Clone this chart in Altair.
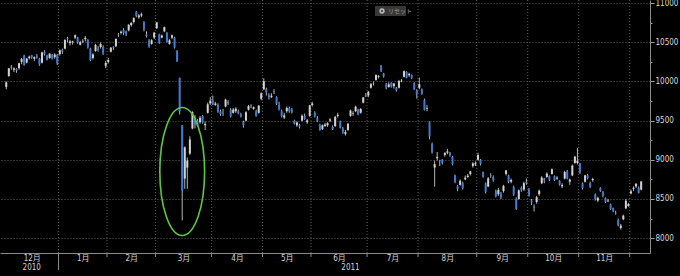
import altair as alt
import pandas as pd

# ---------------- data: daily candles [open, high, low, close] ----------------
dec_2010 = [
    [9930, 10000, 9900, 9988], [10070, 10170, 10060, 10168], [10190, 10210, 10150, 10178],
    [10150, 10180, 10120, 10167], [10160, 10170, 10110, 10141], [10170, 10240, 10150, 10232],
    [10250, 10300, 10220, 10285], [10330, 10340, 10200, 10211], [10240, 10300, 10230, 10293],
    [10300, 10330, 10280, 10316], [10330, 10340, 10290, 10309], [10290, 10320, 10260, 10311],
    [10320, 10350, 10290, 10303], [10290, 10300, 10200, 10216], [10240, 10380, 10230, 10370],
    [10380, 10400, 10330, 10346], [10330, 10340, 10270, 10279], [10300, 10360, 10290, 10355],
    [10340, 10350, 10280, 10292], [10310, 10360, 10290, 10344], [10340, 10350, 10210, 10229],
]
jan_2011 = [
    [10350, 10410, 10330, 10398], [10400, 10420, 10350, 10380], [10420, 10540, 10410, 10529],
    [10550, 10570, 10500, 10541], [10490, 10530, 10460, 10510], [10500, 10520, 10470, 10512],
    [10560, 10600, 10540, 10589], [10560, 10570, 10480, 10499], [10470, 10520, 10460, 10502],
    [10510, 10540, 10490, 10518], [10540, 10580, 10510, 10557], [10530, 10540, 10420, 10437],
    [10420, 10430, 10260, 10274], [10300, 10360, 10280, 10345], [10390, 10480, 10380, 10464],
    [10420, 10450, 10380, 10401], [10440, 10500, 10420, 10478], [10440, 10460, 10340, 10360],
    [10200, 10260, 10170, 10237],
]
feb_2011 = [
    [10250, 10300, 10230, 10274], [10380, 10440, 10370, 10431], [10440, 10450, 10400, 10432],
    [10450, 10550, 10440, 10543], [10600, 10620, 10570, 10593], [10620, 10650, 10600, 10636],
    [10660, 10680, 10590, 10617], [10640, 10650, 10580, 10605], [10650, 10730, 10640, 10725],
    [10720, 10760, 10700, 10746], [10760, 10820, 10740, 10808], [10890, 10900, 10820, 10836],
    [10820, 10860, 10800, 10842], [10840, 10880, 10820, 10857], [10760, 10770, 10640, 10665],
    [10600, 10640, 10560, 10579], [10520, 10540, 10430, 10452], [10480, 10540, 10470, 10526],
    [10560, 10630, 10540, 10624],
]
mar_2011 = [
    [10680, 10760, 10670, 10754], [10600, 10610, 10480, 10492], [10560, 10600, 10550, 10586],
    [10640, 10700, 10630, 10693], [10620, 10630, 10500, 10505], [10480, 10540, 10470, 10525],
    [10560, 10600, 10540, 10589], [10560, 10570, 10420, 10434], [10390, 10400, 10250, 10254],
    [10044, 10050, 9578, 9620], [9441, 9441, 8227, 8605], [8760, 9170, 8630, 9160],
    [8900, 9030, 8630, 8990], [9080, 9300, 9060, 9260], [9400, 9620, 9390, 9608],
    [9550, 9570, 9400, 9449], [9500, 9520, 9430, 9435], [9480, 9560, 9460, 9536],
    [9560, 9570, 9460, 9478], [9440, 9490, 9380, 9459], [9600, 9730, 9590, 9708],
    [9720, 9800, 9700, 9755],
]
apr_2011 = [
    [9760, 9820, 9700, 9708], [9700, 9740, 9690, 9718], [9700, 9720, 9600, 9615],
    [9620, 9640, 9560, 9584], [9600, 9650, 9560, 9590], [9680, 9780, 9670, 9768],
    [9740, 9760, 9700, 9719], [9640, 9660, 9540, 9555], [9600, 9660, 9590, 9641],
    [9620, 9670, 9600, 9653], [9620, 9640, 9580, 9591], [9580, 9600, 9540, 9556],
    [9480, 9500, 9410, 9441], [9500, 9620, 9490, 9607], [9640, 9700, 9630, 9685],
    [9690, 9710, 9660, 9682], [9650, 9680, 9640, 9671], [9620, 9640, 9550, 9558],
    [9600, 9700, 9590, 9691], [9780, 9860, 9760, 9849],
]
may_2011 = [
    [9900, 10040, 9890, 10004], [9900, 9920, 9820, 9859], [9830, 9850, 9770, 9794],
    [9800, 9850, 9790, 9818], [9880, 9900, 9840, 9864], [9800, 9810, 9700, 9716],
    [9700, 9740, 9630, 9648], [9620, 9640, 9540, 9558], [9540, 9600, 9520, 9567],
    [9620, 9680, 9600, 9662], [9660, 9680, 9600, 9620], [9640, 9660, 9590, 9607],
    [9500, 9510, 9450, 9460], [9440, 9490, 9420, 9477], [9440, 9460, 9400, 9422],
    [9500, 9580, 9490, 9562], [9560, 9590, 9510, 9521], [9480, 9520, 9460, 9504],
    [9560, 9700, 9550, 9693],
]
jun_2011 = [
    [9700, 9740, 9680, 9719], [9600, 9620, 9540, 9555], [9530, 9560, 9480, 9492],
    [9440, 9460, 9370, 9381], [9390, 9450, 9380, 9442], [9430, 9470, 9420, 9449],
    [9440, 9480, 9420, 9467], [9500, 9530, 9480, 9514], [9420, 9440, 9380, 9392],
    [9430, 9560, 9420, 9547], [9560, 9600, 9540, 9574], [9490, 9500, 9400, 9411],
    [9400, 9420, 9330, 9351], [9330, 9380, 9310, 9354], [9380, 9470, 9370, 9459],
    [9560, 9640, 9550, 9629], [9590, 9620, 9560, 9597], [9620, 9690, 9610, 9678],
    [9640, 9650, 9570, 9578], [9600, 9660, 9590, 9648], [9730, 9800, 9720, 9797],
    [9830, 9850, 9800, 9816],
]
jul_2011 = [
    [9820, 9880, 9800, 9868], [9920, 9980, 9910, 9965], [9970, 10000, 9950, 9972],
    [10020, 10090, 10010, 10082], [10060, 10080, 10040, 10071], [10200, 10210, 10120, 10137],
    [10100, 10110, 10050, 10069], [9960, 9980, 9900, 9925], [9930, 9990, 9920, 9963],
    [9980, 9990, 9920, 9936], [9940, 9980, 9910, 9974], [9920, 9930, 9870, 9889],
    [9920, 10020, 9910, 10005], [10000, 10030, 9990, 10010], [10060, 10140, 10050, 10132],
    [10120, 10130, 10040, 10050], [10080, 10110, 10060, 10098], [10080, 10090, 10030, 10047],
    [9980, 9990, 9890, 9901], [9880, 9900, 9780, 9833],
]
aug_2011 = [
    [9920, 10050, 9900, 9965], [9900, 9910, 9830, 9844], [9760, 9780, 9630, 9637],
    [9650, 9700, 9620, 9659], [9480, 9490, 9260, 9299], [9200, 9220, 9080, 9097],
    [8900, 8990, 8656, 8944], [9020, 9100, 8990, 9038], [8990, 9000, 8920, 8981],
    [9000, 9010, 8940, 8963], [9060, 9100, 9040, 9086], [9090, 9140, 9070, 9107],
    [9090, 9100, 9040, 9058], [9040, 9050, 8930, 8943], [8800, 8810, 8700, 8719],
    [8660, 8680, 8600, 8628], [8680, 8750, 8670, 8733], [8700, 8720, 8620, 8639],
    [8750, 8800, 8740, 8772], [8780, 8820, 8770, 8797], [8820, 8860, 8800, 8851],
    [8920, 8970, 8900, 8954], [8940, 8980, 8920, 8955],
]
sep_2011 = [
    [9000, 9090, 8990, 9060], [9000, 9010, 8930, 8950], [8840, 8850, 8770, 8785],
    [8700, 8710, 8570, 8590], [8660, 8780, 8650, 8763], [8800, 8830, 8770, 8793],
    [8780, 8800, 8720, 8737], [8600, 8620, 8520, 8535], [8560, 8640, 8540, 8616],
    [8570, 8590, 8500, 8518], [8600, 8680, 8580, 8668], [8820, 8870, 8800, 8864],
    [8800, 8810, 8700, 8721], [8720, 8760, 8700, 8741], [8650, 8670, 8540, 8560],
    [8500, 8520, 8360, 8374], [8500, 8620, 8490, 8609], [8640, 8660, 8590, 8616],
    [8620, 8720, 8600, 8701], [8720, 8760, 8680, 8700],
]
oct_2011 = [
    [8620, 8640, 8530, 8545], [8480, 8500, 8420, 8456], [8400, 8430, 8340, 8382],
    [8460, 8540, 8440, 8522], [8560, 8620, 8540, 8605], [8700, 8790, 8690, 8773],
    [8760, 8770, 8700, 8738], [8780, 8840, 8770, 8823], [8790, 8800, 8730, 8747],
    [8820, 8890, 8810, 8879], [8790, 8800, 8730, 8741], [8760, 8790, 8740, 8772],
    [8730, 8740, 8670, 8682], [8660, 8700, 8640, 8678], [8760, 8860, 8750, 8843],
    [8850, 8870, 8750, 8762], [8720, 8760, 8680, 8748], [8800, 8940, 8790, 8926],
    [8960, 9050, 8950, 9040], [8960, 9152, 8940, 8988],
]
nov_2011 = [
    [8950, 8960, 8820, 8835], [8700, 8710, 8620, 8640], [8720, 8810, 8710, 8801],
    [8800, 8820, 8750, 8767], [8700, 8720, 8640, 8655], [8740, 8770, 8720, 8755],
    [8560, 8570, 8480, 8500], [8480, 8530, 8460, 8514], [8640, 8650, 8590, 8603],
    [8590, 8600, 8520, 8541], [8510, 8520, 8450, 8463], [8470, 8500, 8460, 8479],
    [8430, 8440, 8360, 8374], [8380, 8390, 8330, 8349], [8320, 8350, 8300, 8314],
    [8230, 8250, 8150, 8165], [8130, 8180, 8110, 8160], [8240, 8300, 8230, 8287],
    [8380, 8500, 8370, 8477], [8410, 8450, 8400, 8434],
]
dec_2011 = [
    [8570, 8620, 8560, 8597], [8630, 8660, 8600, 8643], [8660, 8700, 8640, 8695],
    [8640, 8660, 8570, 8575], [8620, 8730, 8610, 8722],
]
months_ohlc = [dec_2010, jan_2011, feb_2011, mar_2011, apr_2011, may_2011, jun_2011,
               jul_2011, aug_2011, sep_2011, oct_2011, nov_2011, dec_2011]
month_labels = ["12月", "1月", "2月", "3月", "4月", "5月", "6月", "7月", "8月",
                "9月", "10月", "11月", ""]

first_day, last_day = "2010-12-01", "2011-12-07"
market_holidays = ["2010-12-23", "2010-12-31", "2011-01-03", "2011-01-10", "2011-02-11",
                   "2011-03-21", "2011-04-29", "2011-05-03", "2011-05-04", "2011-05-05",
                   "2011-07-18", "2011-09-19", "2011-09-23", "2011-10-10", "2011-11-03",
                   "2011-11-23"]

crash_day = "2011-03-15"
crash_ring_value = 8850

y_major = [8000, 8500, 9000, 9500, 10000, 10500, 11000]
y_minor = [8250, 8750, 9250, 9750, 10250, 10750]

# ---------------- build tables ----------------
dates = [d for d in pd.bdate_range(first_day, last_day)
         if d.strftime("%Y-%m-%d") not in market_holidays]
by_month = {}
for d in dates:
    by_month.setdefault((d.year, d.month), []).append(d)
month_keys = sorted(by_month)
rows, bounds, mids = [], [], []
t = 0
for k, key in enumerate(month_keys):
    ds = by_month[key]
    vals = months_ohlc[k]
    if len(ds) != len(vals):
        raise SystemExit(f"month {key}: {len(ds)} dates vs {len(vals)} candles")
    start = t
    for d, (o, h, l, c) in zip(ds, vals):
        rows.append(dict(t=t, date=d.strftime("%Y-%m-%d"), year=d.year, o=o, h=h, l=l, c=c,
                         dir="up" if c >= o else "down"))
        t += 1
    if k > 0:
        bounds.append(dict(t=start - 0.5, yearstart=key[1] == 1))
    mids.append((start + t - 1) / 2)
N = t
df = pd.DataFrame(rows)
bdf = pd.DataFrame(bounds)
ydf = df.groupby("year", as_index=False)["t"].mean()
ydf["label"] = ydf["year"].astype(str)
crash_t = int(df.loc[df.date == crash_day, "t"].iloc[0])
ring = pd.DataFrame([dict(t=crash_t, v=crash_ring_value)])

# ---------------- styling ----------------
FONT = "Liberation Sans Narrow, DejaVu Sans Condensed, Noto Sans CJK JP, sans-serif"
UP, DOWN, WICK = "#d2d2d2", "#3c7cd6", "#b4b4b4"
GRID = "#5e5e5e"

xs = alt.Scale(domain=[-0.5, N + 0.5], nice=False, zero=False)
ys = alt.Scale(domain=[7810, 11040], nice=False, zero=False)

label_vals = [m for m, lab in zip(mids, month_labels) if lab]
label_txt = [lab for lab in month_labels if lab]
label_expr = ("[" + ",".join(f"'{s}'" for s in label_txt) + "][indexof(["
              + ",".join(str(v) for v in label_vals) + "], datum.value)]")

x_axis = alt.Axis(values=label_vals, labelExpr=label_expr, ticks=False, grid=False,
                  domain=True, domainColor="#8c8c8c", labelColor="#d4d4d4",
                  labelFontSize=8, labelFont=FONT, labelPadding=1, title=None)
y_all = sorted(y_major + y_minor)
y_axis = alt.Axis(orient="right", values=y_all, format="d",
                  labelExpr="datum.value % 500 === 0 ? datum.label : ''",
                  tickSize={"condition": {"test": "datum.value % 500 === 0", "value": 4}, "value": 2},
                  tickColor="#a0a0a0", domainColor="#8c8c8c", labelColor="#d8d8d8",
                  labelFontSize=8, labelFont=FONT, labelPadding=1, labelBaseline="middle",
                  grid=True, gridColor=GRID, gridDash=[1, 2],
                  gridOpacity={"condition": {"test": "datum.value % 500 === 0", "value": 1}, "value": 0},
                  title=None)

X = alt.X("t:Q", scale=xs, axis=x_axis)

vgrid = alt.Chart(bdf).mark_rule(color=GRID, strokeDash=[1, 2], strokeWidth=1).encode(x=X)
mticks = alt.Chart(bdf).mark_rule(color="#8c8c8c", strokeWidth=1).encode(
    x=X, y=alt.value(253), y2=alt.value(257))
yticks = alt.Chart(bdf).transform_filter("datum.yearstart").mark_rule(
    color="#8c8c8c", strokeWidth=1).encode(x=X, y=alt.value(253), y2=alt.value(270))

wicks = alt.Chart(df).mark_rule(color=WICK, strokeWidth=1).encode(
    x=X, y=alt.Y("l:Q", scale=ys, axis=y_axis), y2="h:Q")
bodies = alt.Chart(df).mark_bar(size=2).encode(
    x=X, y=alt.Y("o:Q", scale=ys, axis=y_axis), y2="c:Q",
    color=alt.Color("dir:N", scale=alt.Scale(domain=["up", "down"], range=[UP, DOWN]), legend=None))

years = alt.Chart(ydf).mark_text(color="#d4d4d4", fontSize=8, font=FONT, baseline="middle").encode(
    x=X, y=alt.value(268), text="label:N")

ellipse_path = ("M0,-1C0.1933,-1,0.35,-0.5523,0.35,0C0.35,0.5523,0.1933,1,0,1"
                "C-0.1933,1,-0.35,0.5523,-0.35,0C-0.35,-0.5523,-0.1933,-1,0,-1Z")
ring_mark = alt.Chart(ring).mark_point(shape=ellipse_path, size=16384, filled=False,
                                       stroke="#5cc83c", strokeWidth=1.6, opacity=1).encode(
    x=X, y=alt.Y("v:Q", scale=ys, axis=y_axis))

one = alt.Data(values=[{"a": 1}])
btn = alt.Chart(one).mark_rect(fill="#383838", cornerRadius=1).encode(
    x=alt.value(375), x2=alt.value(406), y=alt.value(6), y2=alt.value(16))
btn_icon = alt.Chart(one).mark_point(shape="circle", size=14, filled=False, stroke="#eeeeee",
                                     strokeWidth=1.6).encode(x=alt.value(382), y=alt.value(11))
btn_txt = alt.Chart(one).mark_text(text="リセット", fontSize=6, font=FONT, color="#9a9a9a",
                                   align="left", baseline="middle").encode(
    x=alt.value(388), y=alt.value(11))

chart = alt.layer(vgrid, mticks, yticks, wicks, bodies, years, ring_mark, btn, btn_icon, btn_txt).properties(
    width=650, height=253,
    autosize=alt.AutoSizeParams(type="none"),
    padding={"left": 0, "top": 0, "right": 30, "bottom": 23},
    background="#000000",
).configure_view(stroke=None)

chart.save("out.html", embed_options={"renderer": "svg", "actions": False})
